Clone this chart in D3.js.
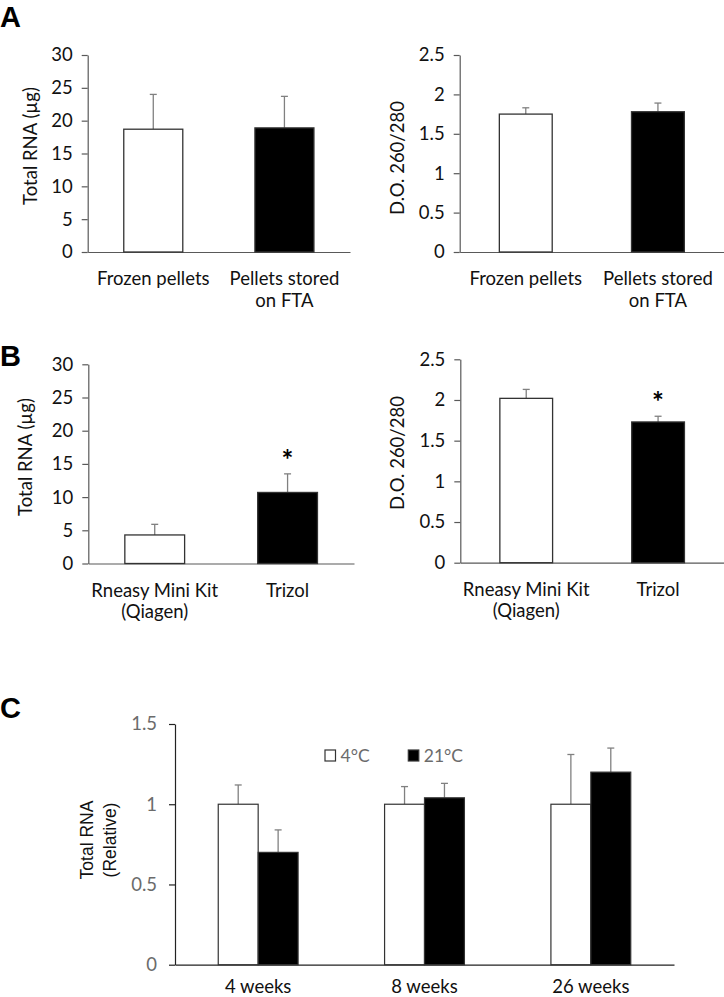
<!DOCTYPE html>
<html><head><meta charset="utf-8">
<script src="https://cdn.jsdelivr.net/npm/d3@7"></script>
<style>
html,body{margin:0;padding:0;background:#fff;}
svg{display:block;font-family:Lato, "Open Sans", sans-serif;}
</style></head>
<body>
<svg id="chart" width="724" height="997"></svg>
<script>
// ---------- DATA ----------
const catsA = [["Frozen pellets"], ["Pellets stored", "on FTA"]];
const totalRnaA = [18.7, 18.9];
const totalRnaAErr = [5.3, 4.8];
const odA = [1.75, 1.78];
const odAErr = [0.08, 0.11];

const catsB = [["Rneasy Mini Kit", "(Qiagen)"], ["Trizol"]];
const totalRnaB = [4.3, 10.7];
const totalRnaBErr = [1.6, 2.8];
const odB = [2.02, 1.73];
const odBErr = [0.11, 0.07];
const sigB = [false, true];

const weeksC = ["4 weeks", "8 weeks", "26 weeks"];
const seriesC = ["4°C", "21°C"];
const c4 = [1.0, 1.0, 1.0];
const c4Err = [0.12, 0.11, 0.31];
const c21 = [0.70, 1.04, 1.20];
const c21Err = [0.14, 0.09, 0.15];

const ticksRna = [0, 5, 10, 15, 20, 25, 30];
const ticksOd = [0, 0.5, 1, 1.5, 2, 2.5];
const ticksRel = [0, 0.5, 1, 1.5];

// ---------- DRAW ----------
const svg = d3.select("#chart");
const AXIS = "#595959", ERR = "#808080";
const fmt = d => String(d);

function simplePanel(o) {
  const g = svg.append("g");
  const x = d3.scaleBand().domain(o.cats.map((d, i) => i)).range([o.x0, o.x1])
    .paddingInner(o.pad).paddingOuter(o.pad / 2);
  const y = d3.scaleLinear().domain([0, o.max]).range([o.yBot, o.yTop]);

  const ya = g.append("g").attr("transform", `translate(${o.x0},0)`)
    .call(d3.axisLeft(y).tickValues(o.ticks).tickFormat(fmt).tickSize(6).tickSizeOuter(0).tickPadding(9));
  ya.selectAll("path,line").attr("stroke", AXIS).attr("stroke-width", 1.2);
  ya.selectAll("text").attr("font-size", 18.5).attr("fill", "#111").attr("font-family", "Lato");

  const xa = g.append("g").attr("transform", `translate(0,${o.yBot})`)
    .call(d3.axisBottom(x).tickSize(0).tickFormat(""));
  xa.selectAll("path").attr("stroke", AXIS).attr("stroke-width", 1.2);

  const idx = o.values.map((d, i) => i);
  g.selectAll(".err").data(idx).join("g").each(function (i) {
    const cx = x(i) + x.bandwidth() / 2;
    const top = y(o.values[i] + o.errs[i]);
    const s = d3.select(this);
    s.append("line").attr("x1", cx).attr("x2", cx).attr("y1", y(o.values[i])).attr("y2", top)
      .attr("stroke", ERR).attr("stroke-width", 1.3);
    s.append("line").attr("x1", cx - 3.5).attr("x2", cx + 3.5).attr("y1", top).attr("y2", top)
      .attr("stroke", ERR).attr("stroke-width", 1.3);
  });
  g.selectAll(".bar").data(idx).join("rect")
    .attr("x", i => x(i)).attr("width", x.bandwidth())
    .attr("y", i => y(o.values[i])).attr("height", i => y(0) - y(o.values[i]))
    .attr("fill", i => i === 0 ? "#fff" : "#000")
    .attr("stroke", "#333").attr("stroke-width", 1.3);

  o.cats.forEach((lines, i) => {
    const t = g.append("text").attr("text-anchor", "middle").attr("font-size", 18.5).attr("fill", "#111");
    lines.forEach((l, k) => t.append("tspan").attr("x", x(i) + x.bandwidth() / 2)
      .attr("y", o.yBot + 33 + k * 21.5).text(l));
  });
  g.append("text").attr("transform", `translate(${o.lx},${o.ly}) rotate(-90)`)
    .attr("text-anchor", "middle").attr("font-size", 18.5).attr("fill", "#111").text(o.label);
  if (o.sig) o.sig.forEach((s, i) => {
    if (!s) return;
    g.append("text").attr("x", x(i) + x.bandwidth() / 2)
      .attr("y", y(o.values[i] + o.errs[i]) - 18 + 14)
      .attr("text-anchor", "middle").attr("font-size", 28).attr("font-weight", "bold").text("*");
  });
}

simplePanel({cats: catsA, values: totalRnaA, errs: totalRnaAErr, x0: 87.7, x1: 350, yTop: 55, yBot: 252,
  max: 30, ticks: ticksRna, pad: 0.55, label: "Total RNA (µg)", lx: 37, ly: 146});
simplePanel({cats: catsA, values: odA, errs: odAErr, x0: 459.7, x1: 724, yTop: 55, yBot: 252,
  max: 2.5, ticks: ticksOd, pad: 0.6, label: "D.O. 260/280", lx: 404, ly: 158});
simplePanel({cats: catsB, values: totalRnaB, errs: totalRnaBErr, x0: 88.3, x1: 354, yTop: 364.3, yBot: 563.5,
  max: 30, ticks: ticksRna, pad: 0.55, label: "Total RNA (µg)", lx: 32, ly: 457, sig: sigB});
simplePanel({cats: catsB, values: odB, errs: odBErr, x0: 460.3, x1: 724, yTop: 359.3, yBot: 562.7,
  max: 2.5, ticks: ticksOd, pad: 0.6, label: "D.O. 260/280", lx: 404, ly: 453, sig: sigB});

// ---------- Panel C ----------
(function () {
  const g = svg.append("g");
  const x0 = 175, x1 = 674, yTop = 724, yBot = 964.7;
  const x = d3.scaleBand().domain(weeksC).range([x0, x1]).paddingInner(0.52).paddingOuter(0.26);
  const xs = d3.scaleBand().domain(seriesC).range([0, x.bandwidth()]);
  const y = d3.scaleLinear().domain([0, 1.5]).range([yBot, yTop]);

  const ya = g.append("g").attr("transform", `translate(${x0},0)`)
    .call(d3.axisLeft(y).tickValues(ticksRel).tickFormat(fmt).tickSize(6).tickSizeOuter(0).tickPadding(12));
  ya.selectAll("path,line").attr("stroke", "#222").attr("stroke-width", 1.2);
  ya.selectAll("text").attr("font-size", 18.5).attr("fill", "#6b6b6b").attr("font-family", "Lato");

  const xa = g.append("g").attr("transform", `translate(0,${yBot})`)
    .call(d3.axisBottom(x).tickSize(0).tickFormat(""));
  xa.selectAll("path").attr("stroke", "#222").attr("stroke-width", 1.2);

  const vals = [c4, c21], errs = [c4Err, c21Err];
  weeksC.forEach((w, i) => {
    seriesC.forEach((s, k) => {
      const bx = x(w) + xs(s), cx = bx + xs.bandwidth() / 2;
      const top = y(vals[k][i] + errs[k][i]);
      g.append("line").attr("x1", cx).attr("x2", cx).attr("y1", y(vals[k][i])).attr("y2", top)
        .attr("stroke", ERR).attr("stroke-width", 1.3);
      g.append("line").attr("x1", cx - 3.5).attr("x2", cx + 3.5).attr("y1", top).attr("y2", top)
        .attr("stroke", ERR).attr("stroke-width", 1.3);
    });
    seriesC.forEach((s, k) => {
      g.append("rect").attr("x", x(w) + xs(s)).attr("width", xs.bandwidth())
        .attr("y", y(vals[k][i])).attr("height", y(0) - y(vals[k][i]))
        .attr("fill", k === 0 ? "#fff" : "#000").attr("stroke", "#333").attr("stroke-width", 1.2);
    });
    g.append("text").attr("x", x(w) + x.bandwidth() / 2).attr("y", yBot + 28)
      .attr("text-anchor", "middle").attr("font-size", 18.5).attr("fill", "#111").text(w);
  });

  const legX = [325, 408.3];
  seriesC.forEach((s, k) => {
    g.append("rect").attr("x", legX[k]).attr("y", 750).attr("width", 10.5).attr("height", 11)
      .attr("fill", k === 0 ? "#fff" : "#000").attr("stroke", "#333").attr("stroke-width", 1.2);
    g.append("text").attr("x", legX[k] + 15.5).attr("y", 762).attr("font-size", 17.5)
      .attr("fill", "#6b6b6b").text(s);
  });

  const yl = g.append("text").attr("transform", "translate(0,840) rotate(-90)")
    .attr("text-anchor", "middle").attr("font-size", 17.5).attr("fill", "#111")
    .attr("font-family", "Liberation Sans, Arial, sans-serif");
  yl.append("tspan").attr("x", 0).attr("y", 93).text("Total RNA");
  yl.append("tspan").attr("x", 0).attr("y", 116).text("(Relative)");
})();

// panel letters
[["A", 0, 27], ["B", 0, 366], ["C", 0, 718]].forEach(([t, px, py]) => {
  svg.append("text").attr("x", px).attr("y", py).attr("font-size", 29).attr("font-weight", "bold")
    .attr("font-family", "Liberation Sans, Arial, sans-serif").attr("fill", "#000").text(t);
});
</script>
</body></html>
